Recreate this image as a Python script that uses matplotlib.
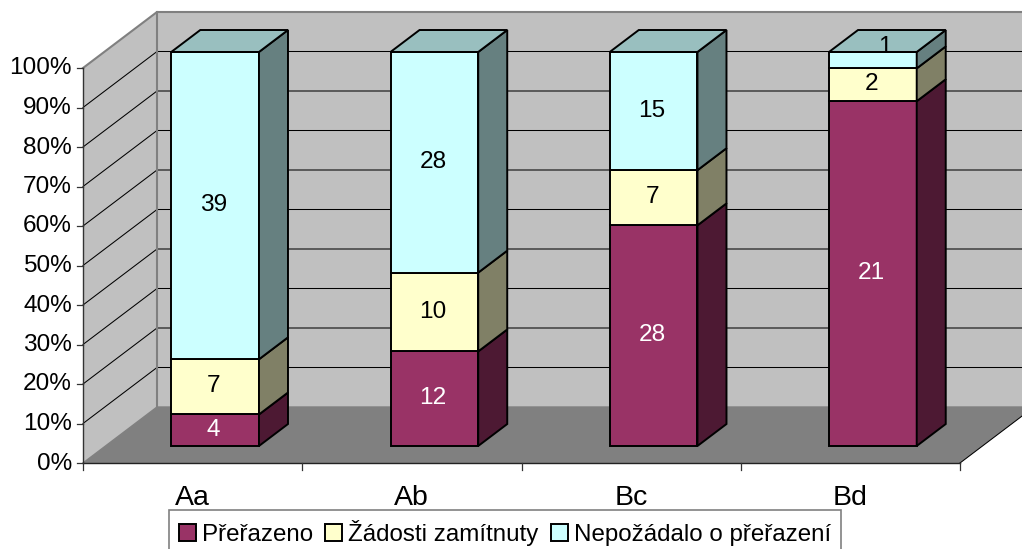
import matplotlib
matplotlib.use('Agg')
import matplotlib.pyplot as plt
from matplotlib.patches import Polygon, Patch

plt.rcParams['font.family'] = ['Liberation Sans', 'DejaVu Sans']

# ── DATA ────────────────────────────────────────────────
categories = ['Aa', 'Ab', 'Bc', 'Bd']
preradeno = [4, 12, 28, 21]
zamitnuty = [7, 10, 7, 2]
nepozadalo = [39, 28, 15, 1]
series_names = ['Přeřazeno', 'Žádosti zamítnuty', 'Nepožádalo o přeřazení']
pct_ticks = [0, 10, 20, 30, 40, 50, 60, 70, 80, 90, 100]

# ── COLOURS ─────────────────────────────────────────────
front_cols = ['#993366', '#FFFFCC', '#CCFFFF']
side_cols = ['#4D1933', '#808066', '#668080']
top_cols = ['#733326', '#BFBF99', '#99BFBF']
text_cols = ['white', 'black', 'black']
WALL = '#C0C0C0'
FLOOR = '#808080'
EDGE = '#808080'

# ── 3D LOOK ─────────────────────────────────────────────
# the axes fill the figure: x in categories, y in percent
W, H = 1022, 549
X0, Y0 = 83, 463        # pixel of category 0 / 0 %
CAT_W = 877 / 4         # pixels per category
PCT_H = 3.95            # pixels per percent
DX, DY = 74, 56         # pixel shift from front to back plane

fig = plt.figure(figsize=(W / 100, H / 100), dpi=100)
ax = fig.add_axes([0, 0, 1, 1])
ax.set_xlim(-X0 / CAT_W, (W - X0) / CAT_W)
ax.set_ylim((Y0 - H) / PCT_H, Y0 / PCT_H)
ax.axis('off')


def pr(cat, pct, depth=0.0):
    # oblique projection, depth 0 = front plane, 1 = back wall
    return cat + depth * DX / CAT_W, pct + depth * DY / PCT_H


def face(pts, color, edge='none', lw=0.0, z=1):
    ax.add_patch(Polygon(pts, closed=True, facecolor=color, edgecolor=edge,
                         linewidth=lw, zorder=z, joinstyle='miter'))


n = len(categories)

# walls and floor
face([pr(0, 0, 1), pr(n, 0, 1), pr(n, 100, 1), pr(0, 100, 1)], WALL)
face([pr(0, 0), pr(0, 0, 1), pr(0, 100, 1), pr(0, 100)], WALL)
face([pr(0, 0), pr(n, 0), pr(n, 0, 1), pr(0, 0, 1)], FLOOR)

# gridlines
for p in pct_ticks[1:-1]:
    ax.plot(*zip(pr(0, p), pr(0, p, 1), pr(n, p, 1)), color='black', lw=0.75, zorder=2)

# wall borders
ax.plot(*zip(pr(0, 100), pr(0, 100, 1), pr(n, 100, 1)), color=EDGE, lw=1.5, zorder=2)
ax.plot(*zip(pr(0, 0), pr(0, 0, 1), pr(n, 0, 1)), color=EDGE, lw=1.0, zorder=2)
ax.plot(*zip(pr(0, 0, 1), pr(0, 100, 1)), color=EDGE, lw=1.5, zorder=2)
ax.plot(*zip(pr(n, 0), pr(n, 0, 1)), color='black', lw=0.75, zorder=2)

# axis lines and ticks
ax.plot(*zip(pr(0, 0), pr(0, 100)), color='#333333', lw=1.0, zorder=3)
ax.plot(*zip(pr(0, 0), pr(n, 0)), color='#222222', lw=1.0, zorder=3)
tick_x = 6 / CAT_W
tick_y = 7 / PCT_H
for p in pct_ticks:
    ax.plot([-tick_x, 0], [p, p], color='#333333', lw=0.9, zorder=3)
    ax.text(-11 / CAT_W, p + 2 / PCT_H, f'{p}%', ha='right', va='center_baseline', fontsize=17.6)
for i in range(n + 1):
    ax.plot([i, i], [0, -tick_y], color='#333333', lw=0.9, zorder=3)
for i, c in enumerate(categories):
    ax.text(i + 0.5, -8.0, c, ha='center', va='center_baseline', fontsize=20.5)

# ── BARS ────────────────────────────────────────────────
D0, D1 = 0.304, 0.696   # front and back of the bars
BAR_L, BAR_R = 0.3, 0.7
BAR_H = 99.75           # bars stop a pixel short of the 100 % plane
series = [preradeno, zamitnuty, nepozadalo]

for i in range(n):
    total = preradeno[i] + zamitnuty[i] + nepozadalo[i]
    bottom = 0.0
    l, r = i + BAR_L, i + BAR_R
    for s, vals in enumerate(series):
        top = bottom + vals[i] / total * BAR_H
        face([pr(l, bottom, D0), pr(r, bottom, D0), pr(r, top, D0), pr(l, top, D0)],
             front_cols[s], 'black', 1.4, 5)
        face([pr(r, bottom, D0), pr(r, bottom, D1), pr(r, top, D1), pr(r, top, D0)],
             side_cols[s], 'black', 1.4, 5)
        # only the last segment shows its top
        if s == len(series) - 1:
            face([pr(l, top, D0), pr(r, top, D0), pr(r, top, D1), pr(l, top, D1)],
                 top_cols[s], 'black', 1.4, 5)
        tx, ty = pr(i + 0.5, (bottom + top) / 2, D0)
        tx -= 1.5 / CAT_W
        ty += 3 / PCT_H
        # Excel pushed the thin "1" label up over the top of the bar
        if vals[i] == 1:
            tx += 14 / CAT_W
            ty += 13 / PCT_H
        ax.text(tx, ty, str(vals[i]), ha='center', va='center_baseline',
                color=text_cols[s], fontsize=17.6, zorder=6)
        bottom = top

# ── LEGEND ──────────────────────────────────────────────
# the box runs off the bottom of the picture, as in the original
handles = [Patch(facecolor=front_cols[s], edgecolor='black', linewidth=1.4)
           for s in range(3)]
leg = ax.legend(handles, series_names, ncol=3, loc='upper center',
                bbox_to_anchor=(505 / W, 1 - 510 / H), fontsize=17.4,
                frameon=True, fancybox=False, framealpha=1, edgecolor='#808080',
                handlelength=0.7, handleheight=0.7, handletextpad=0.25,
                columnspacing=0.5, borderpad=0.41, borderaxespad=0)
leg.get_frame().set_linewidth(1.2)
leg.set_zorder(7)

fig.savefig('out.png', dpi=100)
